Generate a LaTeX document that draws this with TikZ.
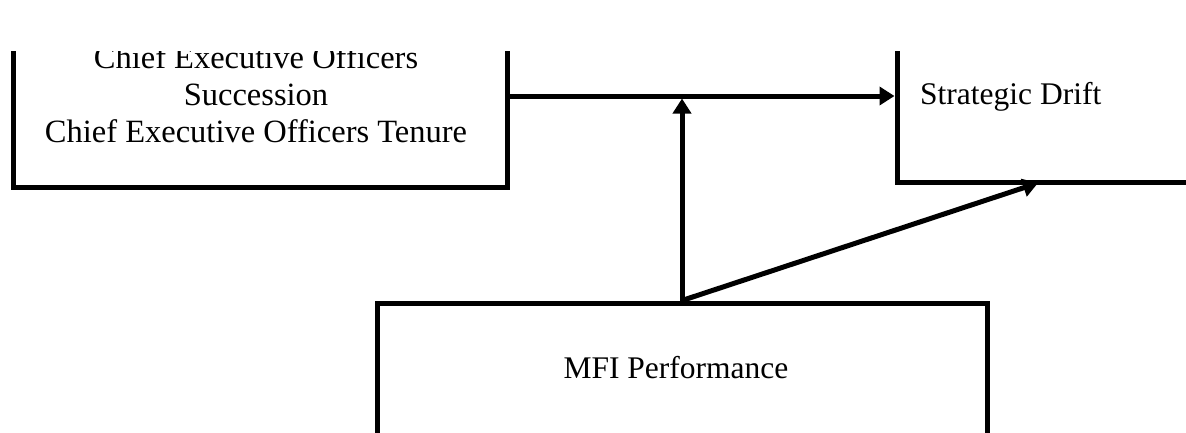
\documentclass[tikz,border=0pt]{standalone}
\usepackage{fontspec}
\setmainfont{Liberation Serif}
\usetikzlibrary{arrows.meta}
\begin{document}
\begin{tikzpicture}[x=1pt,y=-1pt,
  boxstyle/.style={draw=black, line width=5pt, inner sep=0pt},
  txt/.style={inner sep=0pt, font=\fontsize{31.5}{37}\selectfont},
  arr/.style={line width=5pt, -{Triangle[length=15pt,width=18pt]}}]
\useasboundingbox (0,0) rectangle (1186,432);
\begin{scope}
\clip (0,51) rectangle (1186,432);
\node[boxstyle, minimum width=494pt, minimum height=167pt] (L) at (260,103.5) {};
\node[boxstyle, minimum width=313pt, minimum height=162pt] (R) at (1053.5,101) {};
\node[boxstyle, minimum width=610pt, minimum height=157pt] (B) at (682,381.5) {};
\node[txt, font=\fontsize{32.5}{37}\selectfont, align=center, anchor=base] (Lt) at (256,142) {Chief Executive Officers\\Succession\\Chief Executive Officers Tenure};
\node[txt, anchor=base west] (Rt) at (920,104) {Strategic Drift};
\node[txt, anchor=base] (Bt) at (676,378) {MFI Performance};
\coordinate (hl) at (0,96);
\coordinate (vx) at (682,0);
\coordinate (vt) at (682,98.5);
\coordinate (dt) at (1038,183);
\draw[arr] (L.east |- hl) -- (R.west |- hl);
\draw[arr] (B.north -| vx) -- (vt);
\draw[arr] (B.north -| vx) -- (dt);
\end{scope}
\end{tikzpicture}
\end{document}
